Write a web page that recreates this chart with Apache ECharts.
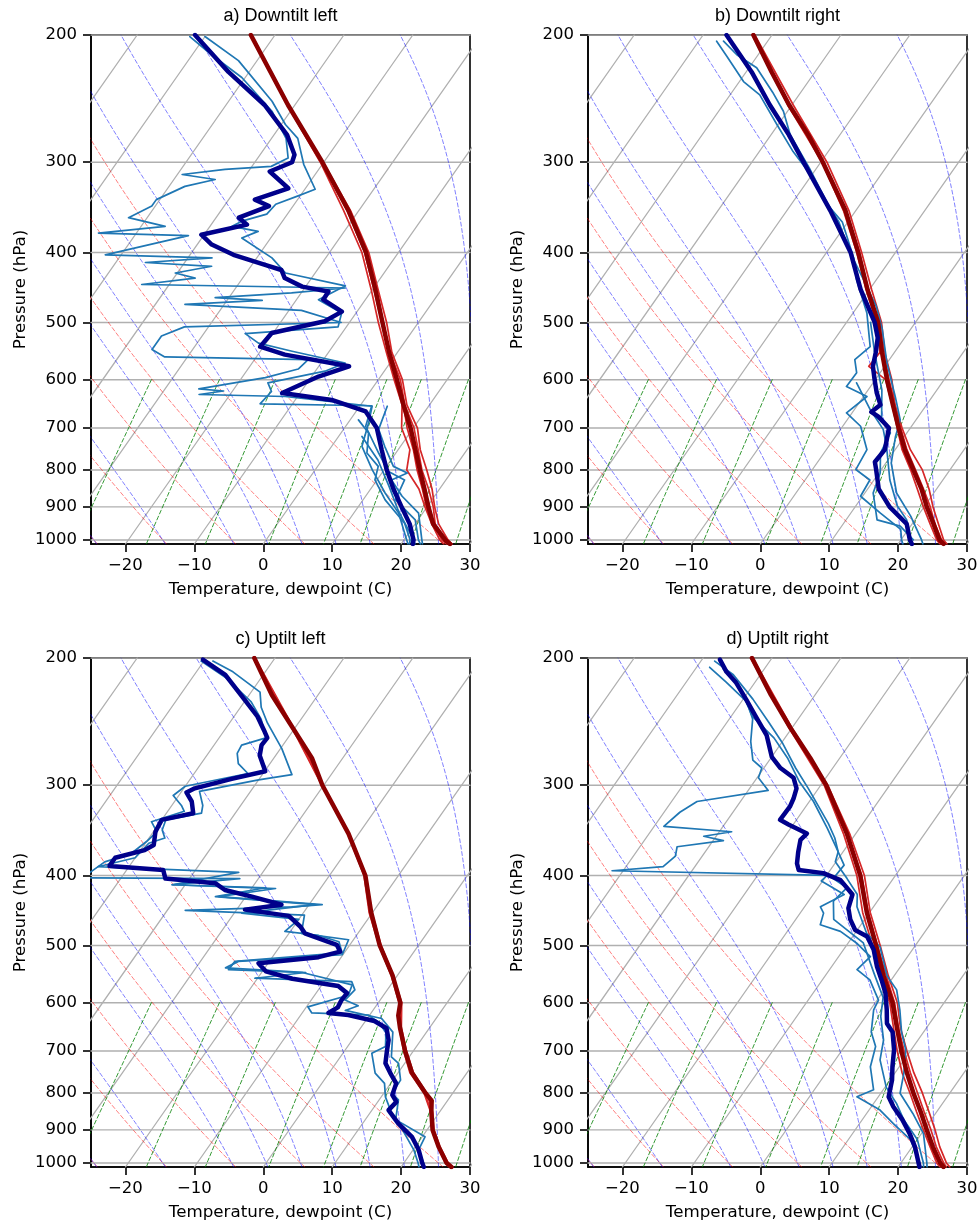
<!DOCTYPE html>
<html><head><meta charset="utf-8">
<script src="https://cdn.jsdelivr.net/npm/echarts@6/dist/echarts.min.js"></script>
<style>html,body{margin:0;padding:0;background:#fff}#c{width:979px;height:1224px}</style>
</head><body><div id="c"></div>
<script>
// ---------------- data (pressure hPa, temperature / dewpoint °C) ----------------
const panelTitles = ['a) Downtilt left', 'b) Downtilt right', 'c) Uptilt left', 'd) Uptilt right'];
const pressureTicks = [1000, 900, 800, 700, 600, 500, 400, 300, 200];
const tempTicks = [-20, -10, 0, 10, 20, 30];

// Panel a
const aTempMean = [[1013,27.1],[1000,26.0],[950,22.6],[900,20.2],[850,17.8],[800,15.2],[750,12.5],[700,9.6],[650,6.2],[600,2.7],[550,-1.2],[500,-5.2],[450,-9.6],[400,-14.7],[350,-21.5],[300,-30.2],[250,-41.0],[200,-53.5]];
const aTempMembers = [
 [[1013,26.2],[1000,25.2],[950,22.4],[900,19.7],[850,17.0],[800,13.3],[750,11.7],[700,8.3],[650,6.0],[600,2.3],[550,-1.6],[500,-5.8],[450,-10.2],[400,-15.3],[350,-22.2],[300,-30.5],[250,-41.1],[200,-53.6]],
 [[1013,27.4],[1000,26.4],[950,23.4],[900,21.1],[850,18.9],[800,16.2],[750,13.2],[700,10.6],[650,6.7],[600,3.5],[550,-0.8],[500,-4.6],[450,-9.2],[400,-14.3],[350,-21.2],[300,-30.1],[250,-40.9],[200,-53.4]],
 [[1013,26.9],[1000,26.0],[950,22.9],[900,20.9],[850,18.4],[800,15.5],[750,12.9],[700,10.1],[650,6.4],[600,3.2],[550,-1.1],[500,-5.1],[450,-9.4],[400,-14.6],[350,-21.5],[300,-30.2],[250,-41.0],[200,-53.5]],
 [[1013,26.6],[1000,25.5],[950,22.6],[900,19.9],[850,17.5],[800,14.8],[750,12.2],[700,9.1],[650,6.2],[600,2.6],[550,-1.3],[500,-5.3],[450,-9.8],[400,-14.9],[350,-21.7],[300,-30.3],[250,-41.0],[200,-53.6]]
];
const aDewMean = [[1013,21.7],[1000,21.4],[950,19.2],[900,16.3],[850,13.3],[800,10.4],[750,7.6],[700,4.7],[664,1.4],[640,-4.7],[626,-12.6],[594,-9.0],[575,-5.6],[554,-16.1],[540,-20.5],[517,-20.2],[498,-13.7],[483,-12.2],[465,-16.1],[453,-16.2],[446,-20.5],[434,-23.9],[423,-25.2],[416,-28.1],[403,-33.7],[390,-37.9],[378,-40.4],[366,-34.8],[358,-36.7],[345,-33.5],[338,-36.2],[326,-32.5],[309,-36.9],[300,-34.6],[293,-35.0],[275,-38.1],[250,-44.4],[225,-53.0],[200,-61.6]];
const aDewMembers = [
 [[1013,21.0],[1000,20.4],[918,16.5],[861,12.5],[800,8.3],[742,4.4],[689,3.0],[653,1.8],[633,-11.8],[629,-24.5],[622,-21.3],[618,-25.1],[596,-16.6],[580,-12.7],[563,-12.2],[558,-33.3],[545,-35.9],[522,-35.9],[507,-33.5],[500,-11.2],[481,-18.2],[472,-35.7],[466,-24.9],[462,-32.0],[455,-21.4],[448,-14.1],[443,-44.0],[434,-36.9],[427,-40.3],[418,-35.7],[413,-45.7],[407,-36.5],[403,-52.3],[379,-42.2],[376,-55.5],[368,-46.5],[358,-52.7],[345,-50.5],[338,-50.5],[324,-47.7],[317,-44.0],[312,-49.3],[307,-43.6],[304,-37.2],[296,-35.6],[278,-37.9],[255,-42.7],[229,-50.5],[213,-57.2],[201,-62.2]],
 [[1013,22.8],[1000,22.1],[938,19.6],[880,14.7],[826,14.0],[804,10.8],[758,7.5],[696,2.9],[652,1.7],[648,-14.7],[623,-14.3],[606,-15.7],[584,-8.6],[569,-6.5],[548,-15.4],[534,-21.1],[518,-24.0],[507,-11.2],[485,-12.1],[465,-16.8],[450,-15.0],[445,-14.3],[427,-24.3],[407,-27.8],[382,-34.2],[374,-32.5],[368,-36.8],[362,-35.9],[354,-33.0],[343,-32.7],[334,-30.3],[327,-28.5],[302,-32.7],[278,-36.2],[266,-39.4],[247,-43.7],[217,-52.7],[201,-60.0]],
 [[1013,23.1],[1000,22.6],[918,19.4],[870,15.3],[826,12.1],[808,13.7],[791,11.0],[742,7.7],[703,5.1],[653,4.0]],
 [[1013,21.2],[1000,20.9],[948,18.4],[880,13.2],[826,9.7],[791,8.8],[758,5.8],[711,4.0],[682,1.2]],
 [[1013,22.0],[1000,21.4],[909,16.1],[843,12.4],[775,8.1],[719,3.4]]
];

// Panel b
const bTempMean = [[1013,26.6],[1000,25.6],[950,23.1],[900,20.4],[850,17.8],[800,14.7],[750,11.4],[700,8.3],[650,5.1],[600,1.7],[550,-1.8],[500,-5.4],[450,-10.3],[400,-15.4],[350,-21.5],[300,-29.7],[275,-34.6],[250,-40.4],[225,-46.3],[200,-52.7]];
const bTempMembers = [
 [[1013,27.1],[1000,26.2],[950,23.8],[900,21.3],[850,18.9],[800,16.0],[750,12.2],[700,8.8],[650,5.4],[600,2.4],[550,-1.4],[500,-4.9],[450,-9.7],[400,-14.9],[350,-21.0],[300,-29.1],[250,-39.8],[200,-52.5]],
 [[1013,26.1],[1000,25.2],[950,22.6],[900,19.9],[850,17.2],[800,14.3],[750,11.0],[700,8.1],[650,5.0],[600,1.5],[575,-2.3],[550,-2.1],[500,-5.6],[450,-10.5],[400,-15.6],[350,-21.8],[300,-29.8],[250,-40.6],[200,-52.8]],
 [[1013,26.8],[1000,25.9],[950,23.3],[900,20.9],[850,18.1],[800,15.0],[750,11.7],[700,8.6],[650,5.4],[600,2.0],[550,-1.6],[500,-5.2],[450,-10.2],[400,-15.2],[350,-21.4],[300,-29.6],[250,-40.3],[200,-52.7]]
];
const bDewMean = [[1013,22.0],[1000,21.3],[950,19.2],[900,15.0],[850,11.6],[800,9.3],[780,8.3],[750,8.5],[700,6.9],[675,4.2],[665,2.7],[650,3.3],[625,1.5],[600,-0.1],[575,-1.7],[550,-2.7],[525,-3.9],[500,-5.9],[450,-11.3],[400,-16.5],[350,-23.7],[300,-32.5],[275,-37.4],[250,-43.2],[225,-49.2],[200,-56.6]];
const bDewMembers = [
 [[1013,20.7],[1000,20.1],[967,18.9],[918,14.3],[870,9.7],[826,9.4],[799,6.3],[750,5.9],[696,2.6],[667,-0.8],[633,0.5],[613,-3.5],[587,-3.4],[563,-5.0],[540,-4.1],[485,-8.0],[436,-12.9],[407,-15.5],[363,-20.8],[343,-24.8],[316,-29.4],[290,-35.1],[266,-40.2],[242,-45.7],[232,-49.4],[214,-54.4],[204,-57.4]],
 [[1013,23.6],[1000,23.0],[927,19.0],[861,14.6],[783,10.8],[719,8.7],[682,7.7],[633,4.6],[569,0.0],[511,-4.1],[475,-7.3],[436,-11.9],[399,-16.7],[363,-21.3],[340,-25.2],[306,-31.0],[275,-37.2],[255,-40.6],[240,-44.1],[222,-48.9],[213,-53.1],[204,-56.4]],
 [[1000,21.8],[957,18.5],[938,14.5],[861,11.2],[808,10.2],[758,8.2],[711,7.6],[682,5.0],[620,2.0],[551,-2.8],[500,-6.5]],
 [[1000,21.3],[938,18.8],[897,16.0],[826,12.3],[742,8.4],[703,6.2],[660,2.3],[606,-2.4]]
];

// Panel c
const cTempMean = [[1013,27.3],[1000,26.2],[950,23.4],[900,20.8],[850,18.8],[820,17.7],[800,16.0],[750,12.0],[700,8.8],[650,5.7],[625,4.2],[600,3.2],[550,-0.7],[500,-5.6],[450,-10.2],[400,-14.8],[350,-21.5],[300,-30.2],[275,-34.5],[250,-40.3],[225,-46.7],[200,-53.0]];
const cTempMembers = [
 [[1013,27.0],[1000,26.0],[950,23.3],[900,20.7],[850,18.7],[800,15.8],[750,11.7],[700,8.6],[650,5.6],[600,3.0],[550,-0.9],[500,-5.7],[450,-10.5],[400,-15.0],[350,-21.6],[300,-30.3],[250,-40.4],[200,-53.1]],
 [[1013,27.5],[1000,26.4],[950,23.6],[900,21.0],[850,19.0],[800,16.2],[750,12.2],[700,9.0],[650,5.9],[600,3.4],[550,-0.6],[500,-5.4],[450,-10.1],[400,-14.7],[350,-21.4],[300,-30.1],[250,-40.2],[200,-52.9]],
 [[1013,27.2],[1000,26.3],[950,23.5],[900,20.8],[850,18.8],[800,15.9],[750,12.0],[700,8.8],[650,5.8],[600,3.1],[550,-0.8],[500,-5.6],[450,-10.4],[400,-14.8],[350,-21.5],[300,-30.2],[250,-40.3],[200,-53.0]]
];
const cDewMean = [[1013,23.3],[1001,22.7],[959,20.8],[920,18.5],[882,15.2],[845,12.4],[823,12.7],[805,11.4],[776,10.8],[751,8.9],[728,7.2],[701,6.2],[676,5.3],[651,3.8],[636,1.3],[624,-3.1],[620,-6.2],[609,-5.4],[595,-5.6],[582,-5.5],[569,-7.5],[556,-14.9],[543,-19.5],[529,-21.4],[519,-13.3],[510,-10.7],[499,-11.9],[481,-17.7],[471,-19.0],[455,-21.8],[446,-28.8],[439,-24.0],[428,-29.1],[419,-33.7],[410,-35.8],[404,-43.5],[393,-44.7],[388,-52.9],[378,-52.9],[369,-49.4],[363,-48.6],[348,-49.7],[335,-50.0],[328,-46.1],[316,-47.5],[307,-49.2],[303,-48.4],[294,-44.0],[287,-39.9],[273,-42.3],[264,-43.1],[258,-43.0],[253,-44.0],[241,-46.6],[228,-50.3],[211,-55.5],[201,-60.3]];
const cDewMembers = [
 [[1013,23.4],[1001,22.9],[959,20.8],[920,20.4],[871,14.4],[818,12.8],[801,11.2],[768,11.1],[728,9.1],[713,7.4],[659,5.1],[631,2.1],[615,-4.0],[606,-2.6],[595,-5.1],[576,-4.7],[561,-6.0],[555,-20.4],[545,-13.6],[543,-16.6],[537,-25.7],[526,-24.5],[515,-10.1],[491,-10.7],[481,-18.2],[454,-19.6],[447,-37.4],[442,-22.3],[439,-18.1],[428,-33.9],[417,-26.5],[412,-41.9],[396,-33.5],[389,-54.5],[378,-50.0],[361,-49.5],[355,-47.7],[346,-48.9],[335,-49.4],[328,-44.9],[320,-45.5],[306,-47.4],[295,-40.0],[290,-35.7],[267,-39.8],[246,-44.5],[234,-47.0],[223,-48.7],[209,-54.7],[202,-58.7]],
 [[1013,22.6],[1001,22.1],[959,20.1],[898,16.3],[854,13.2],[810,10.6],[776,9.1],[751,6.7],[705,4.2],[690,5.5],[659,4.1],[638,1.9],[624,-0.2],[620,-8.6],[608,-9.8],[586,-5.1],[567,-5.6],[545,-14.1],[540,-25.1],[526,-25.0],[512,-10.3],[494,-11.9],[484,-15.6],[478,-20.8],[460,-20.0],[451,-28.9],[439,-19.1],[428,-34.4],[416,-28.0],[412,-41.9],[404,-32.7],[403,-55.6],[393,-54.8],[383,-54.0],[373,-51.0],[359,-50.0],[348,-49.5],[337,-51.3],[326,-47.6],[320,-48.6],[310,-50.8],[301,-50.0],[289,-42.2],[280,-44.6],[271,-45.8],[264,-46.0],[258,-43.2],[243,-45.8],[230,-49.0],[213,-55.1],[202,-60.4]]
];

// Panel d
const dTempMean = [[1013,26.6],[1000,25.7],[950,23.0],[900,20.4],[850,17.7],[800,14.7],[750,11.7],[700,8.7],[650,5.7],[600,2.5],[550,-1.6],[500,-5.7],[450,-10.4],[400,-15.1],[350,-21.3],[300,-29.2],[275,-34.3],[250,-40.2],[225,-46.4],[200,-52.9]];
const dTempMembers = [
 [[1013,26.1],[1000,25.2],[950,22.6],[900,19.9],[850,17.1],[800,14.2],[750,11.0],[700,8.1],[650,5.2],[600,2.1],[550,-2.1],[500,-6.2],[450,-11.0],[400,-15.6],[350,-21.8],[300,-29.5],[250,-40.4],[200,-53.1]],
 [[1013,27.5],[1000,26.6],[950,24.0],[900,21.6],[850,18.9],[800,16.0],[750,12.7],[700,9.5],[650,6.2],[600,3.2],[550,-0.9],[500,-5.1],[450,-9.9],[400,-14.5],[350,-20.9],[300,-29.0],[250,-40.0],[200,-52.8]],
 [[1013,27.0],[1000,26.2],[950,23.5],[900,21.0],[850,18.2],[800,15.3],[750,12.2],[700,9.1],[650,5.9],[600,2.8],[550,-1.2],[500,-5.5],[450,-10.2],[400,-14.9],[350,-21.2],[300,-29.2],[250,-40.2],[200,-52.9]]
];
const dDewMean = [[1013,23.1],[1001,22.6],[950,20.4],[911,18.3],[871,15.8],[836,13.2],[810,11.5],[768,10.3],[736,9.0],[697,7.5],[659,5.5],[641,3.8],[614,2.4],[582,0.5],[558,-1.4],[535,-3.4],[507,-5.6],[486,-7.9],[476,-10.3],[460,-12.1],[444,-13.5],[425,-14.3],[406,-17.5],[397,-20.7],[393,-24.6],[385,-25.5],[371,-26.5],[357,-27.4],[350,-27.1],[340,-30.7],[335,-32.4],[321,-32.3],[313,-32.6],[303,-33.2],[293,-34.7],[284,-37.6],[274,-40.0],[267,-41.1],[256,-42.9],[241,-46.4],[228,-49.6],[216,-52.8],[209,-55.2],[201,-57.4]];
const dDewMembers = [
 [[1013,23.3],[1001,22.8],[928,19.0],[882,14.9],[845,11.6],[810,6.9],[792,8.6],[736,5.8],[690,4.5],[659,2.4],[614,0.5],[595,0.2],[558,-3.1],[540,-6.0],[518,-5.4],[496,-8.8],[478,-12.3],[468,-15.9],[451,-16.6],[442,-17.7],[425,-15.5],[407,-20.2],[400,-19.9],[394,-51.6],[389,-44.6],[376,-43.9],[365,-44.6],[358,-38.5],[353,-41.8],[348,-38.2],[342,-48.6],[327,-47.7],[316,-46.3],[305,-37.1],[293,-39.8],[284,-40.3],[277,-42.4],[261,-44.6],[243,-46.6],[230,-49.2],[216,-54.2],[206,-58.1]],
 [[1013,24.2],[1001,23.8],[911,20.3],[854,16.7],[801,12.8],[751,11.3],[697,9.2],[659,6.8],[614,4.3],[576,1.8],[551,-1.0],[502,-5.0],[481,-8.3],[442,-12.4],[425,-13.6],[404,-16.7],[383,-20.1],[371,-20.7],[355,-22.6],[339,-25.0],[323,-27.8],[303,-31.5],[284,-35.4],[262,-39.9],[246,-43.8],[228,-48.6],[211,-53.9],[202,-58.0]],
 [[1013,23.7],[1001,23.3],[928,20.0],[871,16.0],[827,13.3],[786,10.2],[720,6.5],[676,5.0],[627,2.2],[590,0.6],[546,-3.2],[496,-7.8],[460,-14.5],[434,-16.4],[416,-15.8],[404,-18.7],[387,-18.5],[364,-21.7],[344,-24.7],[316,-29.4],[297,-33.4],[275,-37.6],[258,-41.6],[241,-46.9],[220,-51.6],[207,-56.0]]
];

// Reference-line families (start values at 1000 hPa / mixing ratios in kg/kg)
const isothermValues = [-110,-100,-90,-80,-70,-60,-50,-40,-30,-20,-10,0,10,20,30];
const dryAdiabatStarts = [-25,-15,-5,5,15,25];
const moistAdiabatStarts = [-25,-15,-5,0,5,10,15,20,25,30];
const mixingRatios = [0.0004,0.001,0.002,0.004,0.007,0.01,0.016,0.024,0.032];

// ---------------- skew-T geometry ----------------
const P_BOTTOM = 1013, P_TOP = 200, T_MIN = -25, T_MAX = 30;
const SKEW_SPAN = 51.7;              // isotherm shift (°C) from bottom to top of the plot
const LNSPAN = Math.log(P_BOTTOM / P_TOP);
function skewX(T, p) { return T + SKEW_SPAN * Math.log(P_BOTTOM / p) / LNSPAN; }
function toXY(p, T) { return [skewX(T, p), Math.log(p)]; }

const Rd = 287.04749, Cp = 1004.6662, Lv = 2.50084e6, EPS = 0.6219569;
function satVap(Tk) { return 6.112 * Math.exp(17.67 * (Tk - 273.15) / (Tk - 29.65)); }
function moistRate(Tk, p) {
  const es = satVap(Tk), rs = EPS * es / (p - es);
  return (Rd * Tk + Lv * rs) / (Cp + Lv * Lv * rs * EPS / (Rd * Tk * Tk)) / p;
}
function rk4(Tk, p, dp) {
  const k1 = moistRate(Tk, p);
  const k2 = moistRate(Tk + dp * k1 / 2, p + dp / 2);
  const k3 = moistRate(Tk + dp * k2 / 2, p + dp / 2);
  const k4 = moistRate(Tk + dp * k3, p + dp);
  return Tk + dp * (k1 + 2 * k2 + 2 * k3 + k4) / 6;
}
const pLevels = [];
for (let i = 0; i <= 80; i++) pLevels.push(P_BOTTOM + (P_TOP - P_BOTTOM) * i / 80);

function dryLine(t0) { return pLevels.map(p => toXY(p, (t0 + 273.15) * Math.pow(p / 1000, Rd / Cp) - 273.15)); }
function moistLine(t0) {
  const out = [];
  let Tk = t0 + 273.15;
  const Tb = rk4(Tk, 1000, P_BOTTOM - 1000);
  out.push(toXY(P_BOTTOM, Tb - 273.15));
  let p = 1000;
  out.push(toXY(p, Tk - 273.15));
  while (p > P_TOP) {
    const np = Math.max(P_TOP, p - 5);
    for (let s = 0; s < 5; s++) Tk = rk4(Tk, p - (p - np) * s / 5, -(p - np) / 5);
    p = np;
    out.push(toXY(p, Tk - 273.15));
  }
  return out;
}
function mixLine(w) {
  const out = [];
  for (let i = 0; i <= 20; i++) {
    const p = 600 + (P_BOTTOM - 600) * i / 20;
    const e = p * w / (EPS + w), l = Math.log(e / 6.112);
    out.push(toXY(p, 243.5 * l / (17.67 - l)));
  }
  return out;
}

// ---------------- layout ----------------
const W = 379, H = 509;
const panels = [
  { left: 91,  top: 35,  tMean: aTempMean, tMem: aTempMembers, dMean: aDewMean, dMem: aDewMembers },
  { left: 588, top: 35,  tMean: bTempMean, tMem: bTempMembers, dMean: bDewMean, dMem: bDewMembers },
  { left: 91,  top: 658, tMean: cTempMean, tMem: cTempMembers, dMean: cDewMean, dMem: cDewMembers },
  { left: 588, top: 658, tMean: dTempMean, tMem: dTempMembers, dMean: dDewMean, dMem: dDewMembers }
];

const FONT = 'DejaVu Sans';
const grids = [], xAxes = [], yAxes = [], series = [], graphics = [];
const lnTicks = pressureTicks.map(p => Math.log(p));

function line(i, data, color, width, type, opacity, z) {
  series.push({
    type: 'line', xAxisIndex: i, yAxisIndex: i, data: data, silent: true,
    symbol: 'none', showSymbol: false, clip: true, z: z, animation: false,
    lineStyle: { color: color, width: width, type: type, opacity: opacity, join: 'round', cap: 'round' }
  });
}

panels.forEach((pn, i) => {
  grids.push({ left: pn.left, top: pn.top, width: W, height: H, show: true,
    borderColor: '#000', borderWidth: 1.6, backgroundColor: 'transparent', containLabel: false, outerBoundsMode: 'none' });
  xAxes.push({
    type: 'value', gridIndex: i, min: T_MIN, max: T_MAX,
    splitLine: { show: false },
    axisLine: { show: true, onZero: false, lineStyle: { color: '#000', width: 1.6 } },
    axisTick: { show: true, customValues: tempTicks, length: 8, lineStyle: { color: '#000', width: 1.6 } },
    axisLabel: { show: true, customValues: tempTicks, margin: 13, fontSize: 16.5, fontFamily: FONT, color: '#000',
      formatter: v => (v < 0 ? '\u2212' + Math.abs(v) : String(v)) },
    name: 'Temperature, dewpoint (C)', nameLocation: 'middle', nameGap: 37,
    nameTextStyle: { fontSize: 16.7, fontFamily: FONT, color: '#000' }
  });
  yAxes.push({
    type: 'value', gridIndex: i, inverse: true, min: Math.log(P_TOP), max: Math.log(P_BOTTOM),
    splitLine: { show: false },
    axisLine: { show: true, onZero: false, lineStyle: { color: '#000', width: 1.6 } },
    axisTick: { show: true, customValues: lnTicks, length: 8, lineStyle: { color: '#000', width: 1.6 } },
    axisLabel: { show: true, customValues: lnTicks, margin: 14, fontSize: 16.5, fontFamily: FONT, color: '#000',
      formatter: v => String(Math.round(Math.exp(v))) },
    name: 'Pressure (hPa)', nameLocation: 'middle', nameGap: 62, nameRotate: 90,
    nameTextStyle: { fontSize: 16.7, fontFamily: FONT, color: '#000' }
  });
  graphics.push({ type: 'text', x: pn.left + W / 2, y: pn.top - 18.5, silent: true,
    style: { text: panelTitles[i], fill: '#000', font: '18px "Liberation Sans", Arial, sans-serif',
      textAlign: 'center', textVerticalAlign: 'middle' } });

  pressureTicks.forEach(p => line(i, [[T_MIN, Math.log(p)], [T_MAX, Math.log(p)]], '#b0b0b0', 1.4, 'solid', 1, 1));
  isothermValues.forEach(t => line(i, [toXY(P_BOTTOM, t), toXY(P_TOP, t)], '#b0b0b0', 1.3, 'solid', 1, 1));
  dryAdiabatStarts.forEach(t => line(i, dryLine(t), '#ff0000', 1, [4, 2.5], 0.5, 1));
  moistAdiabatStarts.forEach(t => line(i, moistLine(t), '#0000ff', 1, [4, 2.5], 0.5, 1));
  mixingRatios.forEach(w => line(i, mixLine(w), '#008000', 1, [4, 2.5], 0.8, 1));

  pn.tMem.forEach(m => line(i, m.map(d => toXY(d[0], d[1])), '#d62728', 1.7, 'solid', 1, 2));
  pn.dMem.forEach(m => line(i, m.map(d => toXY(d[0], d[1])), '#1f77b4', 1.7, 'solid', 1, 2));
  line(i, pn.tMean.map(d => toXY(d[0], d[1])), '#8b0000', 4.5, 'solid', 1, 3);
  line(i, pn.dMean.map(d => toXY(d[0], d[1])), '#00008b', 4.5, 'solid', 1, 4);
});

const chart = echarts.init(document.getElementById('c'), null, { renderer: 'canvas', width: 979, height: 1224 });
chart.setOption({
  backgroundColor: '#ffffff',
  animation: false,
  grid: grids, xAxis: xAxes, yAxis: yAxes, series: series,
  graphic: graphics
});
</script></body></html>
